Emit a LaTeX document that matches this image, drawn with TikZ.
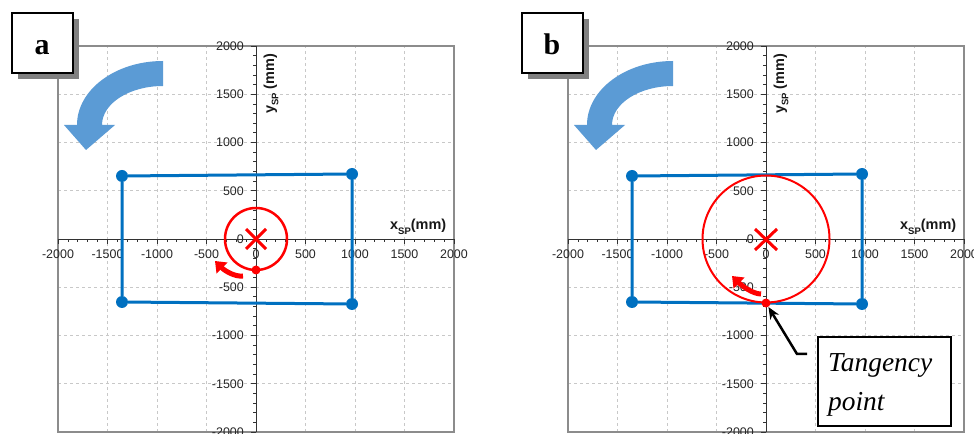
\documentclass[tikz,border=0pt]{standalone}
\usepackage{fontspec}
\setmainfont{Liberation Sans}
\newfontfamily\myserif{Liberation Serif}
\usetikzlibrary{arrows.meta}
\definecolor{plotblue}{RGB}{0,112,192}
\definecolor{arrowblue}{RGB}{91,155,213}
\definecolor{gridgray}{RGB}{200,200,200}
\definecolor{framegray}{RGB}{140,140,140}
\definecolor{axisgray}{RGB}{50,50,50}
\definecolor{shadowgray}{RGB}{128,128,128}
\definecolor{myred}{RGB}{255,0,0}
\tikzset{
  gridline/.style={gridgray, line width=0.8bp, dash pattern=on 3bp off 3bp},
  frameline/.style={framegray, line width=1.5bp},
  axisline/.style={axisgray, line width=0.8bp},
  ticklab/.style={inner sep=0pt, text=black!85, font=\fontsize{12.5}{14}\selectfont},
  axtitle/.style={inner sep=0pt, text=black!90, font=\bfseries\fontsize{14.5}{16}\selectfont},
  bluerect/.style={plotblue, line width=3bp},
  bluedot/.style={circle, fill=plotblue, inner sep=0pt, minimum size=12bp},
  reddot/.style={circle, fill=myred, inner sep=0pt, minimum size=9bp},
  redx/.style={myred, line width=3bp},
  redarrow/.style={myred, line width=5bp, -{Triangle[length=10bp,width=15bp]}},
  letterbox/.style={draw=black, fill=white, line width=2bp, minimum width=61bp, minimum height=60bp, inner sep=0pt},
  letterfont/.style={inner sep=0pt, font=\myserif\bfseries\fontsize{30}{32}\selectfont},
  tangbox/.style={draw=black, fill=white, line width=2bp, minimum width=133bp, minimum height=89bp, inner sep=0pt},
  tangfont/.style={inner sep=0pt, font=\myserif\itshape\fontsize{27.5}{30}\selectfont},
  blackarrow/.style={black, line width=2.5bp, -{Stealth[length=12bp,width=10bp]}}
}
\newcommand\drawpanel[2]{%
  \begin{scope}[xshift=256bp, yshift=-239bp, x=0.099bp, y=0.0965bp]
    \foreach \v in {-1500,-1000,-500,500,1000,1500}{
      \draw[gridline] (\v,-2000) -- (\v,2000);
      \draw[gridline] (-2000,\v) -- (2000,\v);
    }
    \draw[frameline] (-2000,-2000) rectangle (2000,2000);
    \draw[axisline] (-2000,0) -- (2000,0);
    \draw[axisline] (0,-2000) -- (0,2000);
    \foreach \v in {-2000,-1900,...,2000}{
      \draw[axisline] (\v,0) -- ++(0pt,-3bp);
      \draw[axisline] (0,\v) -- ++(-3bp,0pt);
    }
    \foreach \v in {-2000,-1500,...,2000}{
      \draw[axisline] (\v,0) -- ++(0pt,-5bp);
      \draw[axisline] (0,\v) -- ++(-5bp,0pt);
      \node[ticklab, anchor=north, name=#1x\v] at ([yshift=-11bp]\v,0) {\v};
      \node[ticklab, anchor=east, name=#1y\v] at ([xshift=-12bp]0,\v) {\v};
    }
  \end{scope}
  \node[axtitle, anchor=base west, name=#1xt] at (390,230)
    {x\raisebox{-0.3em}{\fontsize{9.5}{9.5}\selectfont SP}(mm)};
  \node[axtitle, rotate=90, anchor=base west, name=#1yt] at (274,114)
    {y\raisebox{-0.3em}{\fontsize{9.5}{9.5}\selectfont SP} (mm)};
  % blue rectangle
  \node[bluedot, name=#1c1] at (122,176) {};
  \node[bluedot, name=#1c2] at (352,174) {};
  \node[bluedot, name=#1c3] at (352,304) {};
  \node[bluedot, name=#1c4] at (122,302) {};
  \draw[bluerect] (#1c1) -- (#1c2) -- (#1c3) -- (#1c4) -- (#1c1);
  % blue rotation arrow
  \fill[arrowblue] (163,61) .. controls (115.5,61) and (77,89.7) .. (77,125)
     -- (64,125) -- (86,150) -- (115,125) -- (102,125)
     .. controls (102,103.5) and (129.3,86) .. (163,86) -- cycle;
  % letter box
  \fill[shadowgray] (18,19) rectangle (79,79);
  \node[letterbox, name=#1box] at (42.5,43) {};
  \node[letterfont, anchor=base, name=#1let] at (42,55) {#2};
}
\begin{document}
\begin{tikzpicture}[x=1bp, y=-1bp]
\useasboundingbox (0,0) rectangle (974,434);
\fill[white] (0,0) rectangle (974,434);
% panel a
\begin{scope}
  \drawpanel{a}{a}
  \draw[myred, line width=2.5bp] (256,239) circle[radius=31];
  \draw[redx] (246,229) -- (266,249);
  \draw[redx] (246,249) -- (266,229);
  \node[reddot, name=adot] at (256,270) {};
  \coordinate (aarrs) at (243,276);
  \coordinate (aarre) at (215,261);
  \draw[redarrow] (aarrs) .. controls (235,277) and (225,271) .. (aarre);
\end{scope}
% panel b
\begin{scope}[xshift=510bp]
  \drawpanel{b}{b}
  \draw[myred, line width=2bp] (256,239) circle[radius=63.5];
  \draw[redx] (245,229) -- (267,250);
  \draw[redx] (245,250) -- (267,229);
  \node[reddot, name=bdot] at (256,303) {};
  \coordinate (barrs) at (251,294);
  \coordinate (barre) at (222,276);
  \draw[redarrow] (barrs) .. controls (243,294) and (232,286) .. (barre);
  \node[tangbox, name=tbox] at (374.5,381.5) {};
  \node[tangfont, anchor=base west, name=tl1] at (318,372) {Tangency};
  \node[tangfont, anchor=base west, name=tl2] at (318,410) {point};
  \coordinate (tstart) at (297,354);
  \coordinate (tbend) at (287,354);
  \draw[blackarrow] (tstart) -- (tbend) -- (bdot);
\end{scope}
\end{tikzpicture}
\end{document}
